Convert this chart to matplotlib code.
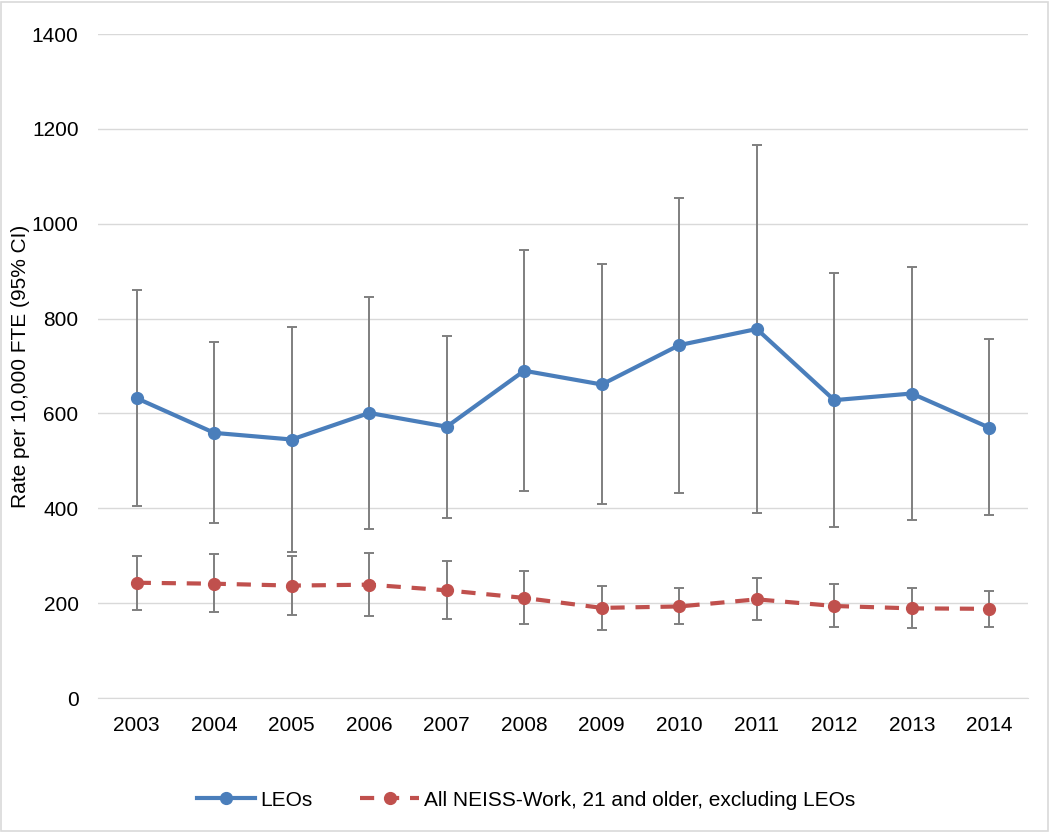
import matplotlib
matplotlib.use("Agg")
import matplotlib.pyplot as plt
from matplotlib.patches import Rectangle

years = ["2003", "2004", "2005", "2006", "2007", "2008", "2009", "2010", "2011", "2012", "2013", "2014"]
leo = [632, 559, 545, 601, 572, 690, 661, 744, 778, 628, 642, 570]
leo_lo = [404, 368, 307, 356, 380, 436, 408, 433, 390, 360, 376, 385]
leo_hi = [861, 750, 782, 846, 764, 944, 916, 1055, 1167, 897, 909, 756]
neiss = [243, 241, 237, 239, 227, 211, 190, 193, 208, 194, 189, 188]
neiss_lo = [185, 181, 175, 173, 167, 156, 143, 156, 165, 150, 147, 150]
neiss_hi = [300, 303, 300, 305, 288, 267, 237, 232, 252, 240, 232, 226]

plt.rcParams['font.family'] = ['Liberation Sans', 'DejaVu Sans']

fig = plt.figure(figsize=(10.5, 8.32), dpi=100)
ax = fig.add_axes([98/1050, 1-698/832, 930/1050, 664/832])

x = list(range(len(years)))
blue = "#4a7ebb"
red = "#c0504d"
gray = "#7f7f7f"

ax.errorbar(x, leo, yerr=[[v - l for v, l in zip(leo, leo_lo)], [h - v for v, h in zip(leo, leo_hi)]],
            fmt='none', ecolor=gray, elinewidth=1.4, capsize=3.8, capthick=1.4, zorder=2)
ax.errorbar(x, neiss, yerr=[[v - l for v, l in zip(neiss, neiss_lo)], [h - v for v, h in zip(neiss, neiss_hi)]],
            fmt='none', ecolor=gray, elinewidth=1.4, capsize=3.8, capthick=1.4, zorder=2)
ax.plot(x, leo, color=blue, lw=3.0, marker='o', ms=8.5, label="LEOs", zorder=3)
ax.plot(x, neiss, color=red, lw=3.0, ls=(0, (3.4, 2.6)), marker='o', ms=8.5,
        label="All NEISS-Work, 21 and older, excluding LEOs", zorder=3)

ax.set_xlim(-0.5, len(years) - 0.5)
ax.set_ylim(0, 1400)
ax.set_yticks(range(0, 1401, 200))
ax.set_xticks(x)
ax.set_xticklabels(years)
ax.tick_params(axis='both', length=0, labelsize=15, colors='#000000')
ax.tick_params(axis='x', pad=13)
ax.tick_params(axis='y', pad=14)
ax.grid(axis='y', color='#d9d9d9', lw=1)
ax.set_axisbelow(True)
for s in ['top', 'right', 'left']:
    ax.spines[s].set_visible(False)
ax.spines['bottom'].set_color('#d9d9d9')
ax.set_ylabel("Rate per 10,000 FTE (95% CI)", fontsize=15, labelpad=1.5)

leg = fig.legend(loc='center', bbox_to_anchor=(526/1050, 1-800/832), ncol=2, frameon=False,
                 fontsize=15, handlelength=2.8, columnspacing=2.3, handletextpad=0.25)

fig.patches.append(Rectangle((0.001, 0.001), 0.997, 0.997, transform=fig.transFigure,
                             fill=False, edgecolor='#d9d9d9', lw=1.2))
fig.savefig("out.png", dpi=100)
